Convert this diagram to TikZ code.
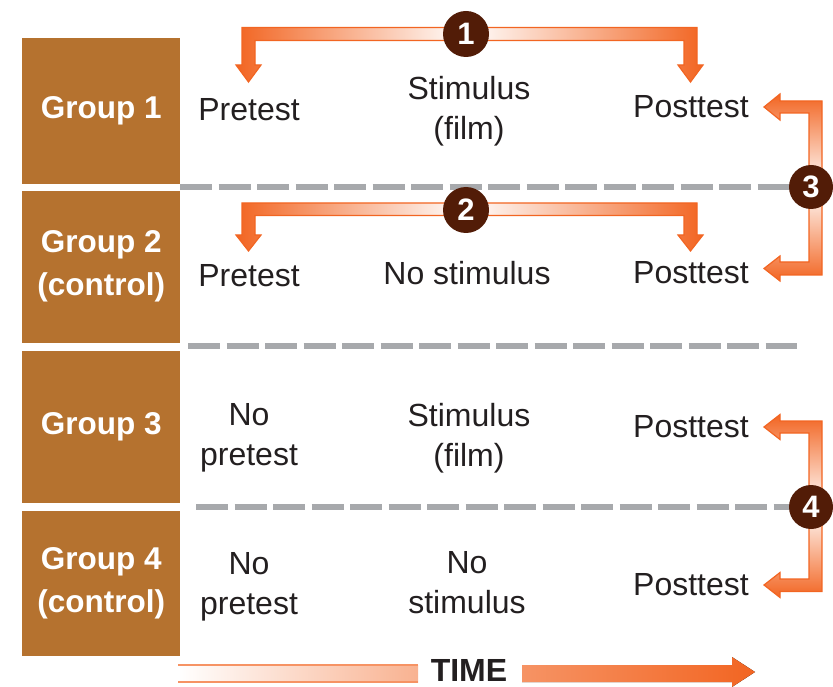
\documentclass[tikz,border=0pt]{standalone}
\usepackage{fontspec}
\setmainfont{Liberation Sans}
\definecolor{boxc}{HTML}{B5722F}
\definecolor{arr}{HTML}{F26522}
\definecolor{dotc}{HTML}{521C07}
\definecolor{dashc}{HTML}{A7A9AC}
\definecolor{txt}{HTML}{231F20}
\begin{document}
\begin{tikzpicture}[x=1pt,y=-1pt,
  grp/.style={fill=boxc, text=white, font=\bfseries\fontsize{31.5}{43}\selectfont, align=center, minimum width=158pt, inner sep=0pt, anchor=north west},
  lbl/.style={text=txt, font=\fontsize{32}{40}\selectfont, align=center, inner sep=0pt},
  num/.style={circle, fill=dotc, text=white, font=\bfseries\fontsize{31}{31}\selectfont, minimum size=46pt, inner sep=0pt},
  sepline/.style={draw=dashc, line width=5.5pt, dash pattern=on 32pt off 6.5pt},
  tube/.style={draw=arr, line width=1.2pt, line join=miter}]
\useasboundingbox (0,0) rectangle (833,687);

% group boxes
\node[grp, minimum height=146pt] (g1) at (22,38) {Group 1};
\node[grp, minimum height=152pt] (g2) at (22,190.5) {Group 2\\(control)};
\node[grp, minimum height=152pt] (g3) at (22,350.5) {Group 3};
\node[grp, minimum height=145pt] (g4) at (22,510.5) {Group 4\\(control)};

% separators
\coordinate (s1a) at (180,187); \coordinate (s1b) at (790,187);
\coordinate (s2a) at (188,346); \coordinate (s2b) at (797,346);
\coordinate (s3a) at (196,507); \coordinate (s3b) at (792,507);
\draw[sepline] (s1a) -- (s1b);
\draw[sepline] (s2a) -- (s2b);
\draw[sepline] (s3a) -- (s3b);

% labels
\node[lbl] (p1) at (249,110) {Pretest};
\node[lbl] (s1) at (469,111) {Stimulus\\(film)};
\node[lbl] (q1) at (691,107) {Posttest};
\node[lbl] (p2) at (249,276) {Pretest};
\node[lbl] (s2) at (467,273) {No stimulus};
\node[lbl] (q2) at (691,273) {Posttest};
\node[lbl] (p3) at (249,438) {No\\pretest};
\node[lbl] (s3) at (469,438) {Stimulus\\(film)};
\node[lbl] (q3) at (691,427) {Posttest};
\node[lbl] (p4) at (249,587) {No\\pretest};
\node[lbl] (s4) at (467,583) {No\\stimulus};
\node[lbl] (q4) at (691,585) {Posttest};

% arrow 1
\path[tube, left color=arr, right color=white]
  (466,27.5) -- (242,27.5) -- (242,65) -- (236,65) -- (248.5,82) -- (261,65) -- (255,65) -- (255,40.5) -- (466,40.5) -- cycle;
\path[tube, left color=white, right color=arr]
  (466,27.5) -- (697,27.5) -- (697,65) -- (703,65) -- (690.5,82) -- (678,65) -- (684,65) -- (684,40.5) -- (466,40.5) -- cycle;
% arrow 2
\path[tube, left color=arr, right color=white]
  (466,203) -- (242,203) -- (242,235) -- (236,235) -- (248.5,251) -- (261,235) -- (255,235) -- (255,215.5) -- (466,215.5) -- cycle;
\path[tube, left color=white, right color=arr]
  (466,203) -- (697,203) -- (697,235) -- (703,235) -- (690.5,251) -- (678,235) -- (684,235) -- (684,215.5) -- (466,215.5) -- cycle;
% arrow 3
\path[tube, top color=arr, bottom color=white]
  (809,187) -- (809,113) -- (780,113) -- (780,120) -- (764,107) -- (780,94) -- (780,101) -- (822,101) -- (822,187) -- cycle;
\path[tube, top color=white, bottom color=arr]
  (809,187) -- (809,262) -- (780,262) -- (780,256) -- (764,268.5) -- (780,281) -- (780,275) -- (822,275) -- (822,187) -- cycle;
% arrow 4
\path[tube, top color=arr, bottom color=white]
  (809,507) -- (809,433) -- (780,433) -- (780,439.5) -- (764,427) -- (780,414.5) -- (780,421) -- (822,421) -- (822,507) -- cycle;
\path[tube, top color=white, bottom color=arr]
  (809,507) -- (809,579) -- (780,579) -- (780,572.5) -- (764,585) -- (780,597.5) -- (780,591.5) -- (822,591.5) -- (822,507) -- cycle;

% number circles
\node[num] (n1) at (466,34) {1};
\node[num] (n2) at (466,210) {2};
\node[num, minimum size=44pt] (n3) at (811,187) {3};
\node[num, minimum size=44pt] (n4) at (811,507) {4};

% time arrow
\node[text=txt, font=\bfseries\fontsize{32}{32}\selectfont, inner sep=0pt] (time) at (469,670.5) {TIME};
\fill[left color=white, right color=arr!50] (178,665) rectangle (418,682);
\draw[arr!70, line width=1.2pt] (178,665) -- (418,665) (178,682) -- (418,682);
\fill[left color=arr!70, right color=arr]
  (522,665) -- (732,665) -- (732,657) -- (755,672) -- (732,687) -- (732,682) -- (522,682) -- cycle;
\end{tikzpicture}
\end{document}
